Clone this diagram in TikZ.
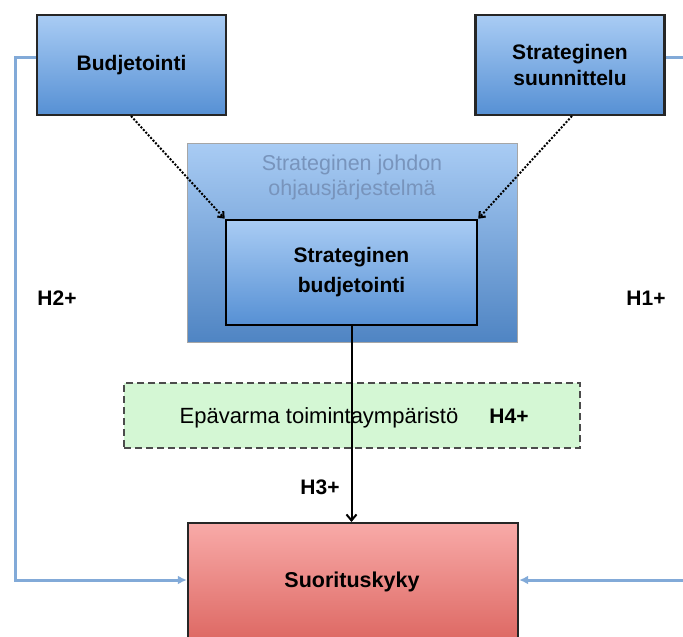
\documentclass[tikz,border=0pt]{standalone}
\usepackage{fontspec}
\setmainfont{Liberation Sans}
\usetikzlibrary{arrows.meta}
\definecolor{boxtop}{HTML}{A9CCF4}
\definecolor{boxbot}{HTML}{5690D4}
\definecolor{redtop}{HTML}{F8AAA8}
\definecolor{redbot}{HTML}{D65650}
\definecolor{greenfill}{HTML}{D4F7D4}
\definecolor{linkblue}{HTML}{82AAD8}
\definecolor{faint}{HTML}{7894BC}
\tikzset{
  x=1pt, y=-1pt,
  bluebox/.style={draw=black!85, line width=2.4pt, top color=boxtop, bottom color=boxbot,
    minimum width=189pt, inner sep=0pt, align=center, font=\bfseries\fontsize{21}{26}\selectfont},
  link/.style={draw=linkblue, line width=3pt, -{Latex[length=9pt,width=9pt]}},
  dotarrow/.style={draw=black, line width=2pt, dash pattern=on 2pt off 1.6pt,
    -{Straight Barb[length=5pt,width=8pt]}},
  hlabel/.style={font=\bfseries\fontsize{21}{24}\selectfont}
}
\begin{document}
\begin{tikzpicture}
\useasboundingbox (0,0) rectangle (683,637);
% top boxes
\node[bluebox, minimum height=100pt] (bud) at (131.5,65) {Budjetointi};
\node[bluebox, minimum height=100pt] (ssu) at (570,65) {Strateginen\\suunnittelu};
% management control system
\node[draw=black!35, line width=1pt, top color=boxtop, bottom color=boxbot!92!black,
  minimum width=330pt, minimum height=199pt, inner sep=0pt] (sys) at (352,242.5) {};
\node[text=faint, align=center, font=\fontsize{21.5}{25}\selectfont] (systxt) at (352,177.5)
  {Strateginen johdon\\ohjausjärjestelmä};
\node[draw=black, line width=2.6pt, top color=boxtop, bottom color=boxbot,
  minimum width=251pt, minimum height=105pt, inner sep=0pt, align=center,
  font=\bfseries\fontsize{21}{30}\selectfont] (sbud) at (351.5,272.5) {Strateginen\\budjetointi};
% dotted influences
\draw[dotarrow] (131,116) -- (sbud.north west);
\draw[dotarrow] (572,116) -- (sbud.north east);
% uncertain environment
\node[draw=black!70, dash pattern=on 7pt off 4pt, line width=1.6pt, fill=greenfill, minimum width=456pt,
  minimum height=65pt, inner sep=0pt] (env) at (352,415.5) {};
\node[font=\fontsize{22}{25}\selectfont, anchor=base] (envtxt) at (319,423) {Epävarma toimintaympäristö};
\node[hlabel, anchor=base] (h4) at (509,423) {H4+};
% performance
\node[draw=black!85, line width=2.4pt, top color=redtop, bottom color=redbot,
  minimum width=330pt, minimum height=150pt, inner sep=0pt, anchor=north] (perf) at (353,522) {};
\node[font=\bfseries\fontsize{21.5}{25}\selectfont] (perftxt) at (352,582) {Suorituskyky};
% main link
\draw[draw=black, line width=2pt, -{Straight Barb[length=6pt,width=10pt]}] (sbud.south) -- (perf.north -| sbud.south);
% feedback loops
\coordinate (lc) at (15,580);
\coordinate (rc) at (690,580);
\draw[link] (bud.west |- 0,57) -| (lc) -- (perf.west |- lc);
\draw[link] (ssu.east |- 0,57) -| (rc) -- (perf.east |- rc);
% hypothesis labels
\node[hlabel] (h3) at (320,487) {H3+};
\node[hlabel] (h2) at (57,298) {H2+};
\node[hlabel] (h1) at (646,298) {H1+};
\end{tikzpicture}
\end{document}
